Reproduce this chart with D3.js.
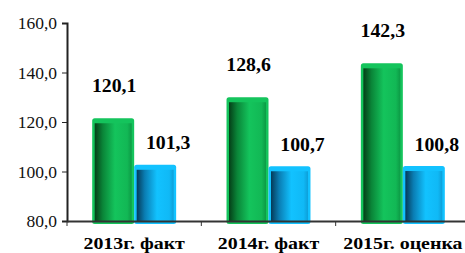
<!DOCTYPE html>
<html>
<head>
<meta charset="utf-8">
<script src="https://cdn.jsdelivr.net/npm/d3@7"></script>
<style>
  body { margin: 0; background: #fff; }
  svg text { font-family: "Liberation Serif", "Times New Roman", serif; }
</style>
</head>
<body>
<div id="chart"></div>
<script>
// data
var categories = ["2013г. факт", "2014г. факт", "2015г. оценка"];
var seriesA = [120.1, 128.6, 142.3];
var seriesB = [101.3, 100.7, 100.8];
var yTicks = [80, 100, 120, 140, 160];

var width = 465, height = 253;
var margin = {top: 23, right: -5, bottom: 32, left: 67};
var serif = "'Liberation Serif', 'Times New Roman', serif";

var svg = d3.select("#chart").append("svg")
    .attr("width", width)
    .attr("height", height);

var defs = svg.append("defs");
function grad(id, stops) {
  var g = defs.append("linearGradient").attr("id", id)
    .attr("x1", "0%").attr("x2", "100%").attr("y1", "0%").attr("y2", "0%");
  stops.forEach(function(s) {
    g.append("stop").attr("offset", s[0]).attr("stop-color", s[1]);
  });
}
grad("gGreen", [["0%", "#053f18"], ["22%", "#0a8538"], ["55%", "#14c45c"], ["88%", "#12b855"], ["100%", "#0c9a45"]]);
grad("gBlue", [["0%", "#053a58"], ["22%", "#0a7db3"], ["55%", "#12c2ff"], ["88%", "#10b9f6"], ["100%", "#0d9fd8"]]);

var x0 = d3.scaleBand()
    .domain(categories)
    .range([margin.left, width - margin.right])
    .paddingInner(0)
    .paddingOuter(0);

var y = d3.scaleLinear()
    .domain([80, 160])
    .range([height - margin.bottom, margin.top]);

var x1 = d3.scaleBand()
    .domain(["a", "b"])
    .range([0, x0.bandwidth()])
    .paddingInner(0)
    .paddingOuter(0.6);

var fmt = function(d) { return d3.format(".1f")(d).replace(".", ","); };

// y axis
var yAxis = svg.append("g")
    .attr("transform", "translate(" + margin.left + ",0)")
    .call(d3.axisLeft(y).tickValues(yTicks).tickSize(5).tickFormat(fmt));
yAxis.select(".domain").attr("stroke", "#222").attr("stroke-width", 2);
yAxis.selectAll(".tick line").attr("stroke", "#222");
yAxis.selectAll("text").attr("font-size", 17.5).attr("fill", "#111")
    .style("font-family", serif).attr("dx", -2);

var groups = svg.selectAll(".grp")
  .data(categories)
  .enter().append("g")
    .attr("transform", function(d) { return "translate(" + x0(d) + ",0)"; });

function drawBar(g, key, val, fill, border) {
  var bx = x1(key), bw = x1.bandwidth();
  var top = y(val) - 3.5, base = y(80) + 3;
  g.append("rect")
    .attr("x", bx).attr("y", top)
    .attr("width", bw).attr("height", base - top)
    .attr("rx", 2.5)
    .attr("fill", border);
  g.append("rect")
    .attr("x", bx + 2.5).attr("y", top + 5)
    .attr("width", bw - 5).attr("height", base - top - 7)
    .attr("fill", "url(#" + fill + ")");
}

function valueLabel(g, cx, by, v) {
  g.append("g")
    .attr("transform", "translate(" + cx + "," + by + ")")
    .append("text")
    .attr("transform", "scale(1.1,1)")
    .attr("text-anchor", "middle")
    .attr("font-size", 18).attr("font-weight", "bold")
    .attr("fill", "#000")
    .style("font-family", serif)
    .text(fmt(v));
}

groups.each(function(d, i) {
  var g = d3.select(this);
  drawBar(g, "a", seriesA[i], "gGreen", "#14c45c");
  drawBar(g, "b", seriesB[i], "gBlue", "#12c2ff");
  valueLabel(g, x1("a") + x1.bandwidth() / 2 + 1, y(seriesA[i]) - 30, seriesA[i]);
  valueLabel(g, x1("b") + x1.bandwidth() / 2 + 13, y(seriesB[i]) - 19, seriesB[i]);
});

// x axis
var xAxis = svg.append("g")
    .attr("transform", "translate(0," + y(80) + ")")
    .call(d3.axisBottom(x0).tickSize(0).tickPadding(16));
xAxis.select(".domain").attr("stroke", "#333").attr("stroke-width", 2);
xAxis.selectAll("text").attr("font-size", 17).attr("font-weight", "bold")
    .attr("fill", "#000").style("font-family", serif)
    .attr("transform", "scale(1.17,1)");
// category separators
xAxis.selectAll(".sep")
  .data(categories)
  .enter().append("line")
    .attr("x1", function(d) { return x0(d); })
    .attr("x2", function(d) { return x0(d); })
    .attr("y1", 0).attr("y2", 5)
    .attr("stroke", "#333");
</script>
</body>
</html>
